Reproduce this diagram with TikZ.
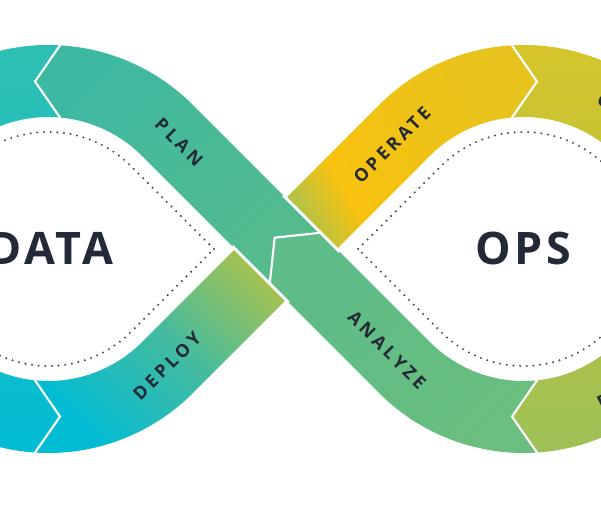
\documentclass[tikz,border=0pt]{standalone}
\usepackage{fontspec}
\setmainfont{Open Sans}
\newfontfamily\bandfont[LetterSpace=20]{Open Sans}
\newfontfamily\bigfont[LetterSpace=8]{Open Sans}
\definecolor{tealband}{HTML}{30BFB2}
\definecolor{cyanband}{HTML}{02BCD4}
\definecolor{planA}{HTML}{3DB9A2}
\definecolor{planB}{HTML}{55BB8D}
\definecolor{analyzeA}{HTML}{5DBC88}
\definecolor{analyzeB}{HTML}{6ABE7F}
\definecolor{deployB}{HTML}{45BB9E}
\definecolor{deployC}{HTML}{B4C343}
\definecolor{operateA}{HTML}{9CC25A}
\definecolor{operateB}{HTML}{F8C20F}
\definecolor{operateC}{HTML}{E6C31D}
\definecolor{rightA}{HTML}{D6C52A}
\definecolor{rightB}{HTML}{9DC157}
\definecolor{ink}{HTML}{232937}
\definecolor{dotgray}{HTML}{4A4F5A}
\pgfdeclarehorizontalshading{leftshade}{100bp}{color(0bp)=(tealband); color(25bp)=(tealband); color(75bp)=(cyanband); color(100bp)=(cyanband)}
\pgfdeclarehorizontalshading{rightshade}{100bp}{color(0bp)=(rightA); color(25bp)=(rightA); color(75bp)=(rightB); color(100bp)=(rightB)}
\pgfdeclarehorizontalshading{planshade}{100bp}{color(0bp)=(planA); color(25bp)=(planA); color(75bp)=(planB); color(100bp)=(planB)}
\pgfdeclarehorizontalshading{analyzeshade}{100bp}{color(0bp)=(analyzeA); color(25bp)=(analyzeA); color(75bp)=(analyzeB); color(100bp)=(analyzeB)}
\pgfdeclarehorizontalshading{deployshade}{100bp}{color(0bp)=(cyanband); color(25bp)=(cyanband); color(50bp)=(deployB); color(75bp)=(deployC); color(100bp)=(deployC)}
\pgfdeclarehorizontalshading{operateshade}{100bp}{color(0bp)=(operateA); color(25bp)=(operateA); color(38bp)=(operateB); color(75bp)=(operateC); color(100bp)=(operateC)}
\tikzset{
  cutline/.style={draw=white, line width=1.6pt, line cap=round, line join=miter},
  gapline/.style={draw=white, line width=2.2pt},
  dotline/.style={draw=dotgray, line width=1.7pt, line cap=round, dash pattern=on 0pt off 5pt},
  bigword/.style={text=ink, inner sep=0pt, font=\bigfont\fontsize{33.6}{36}\selectfont\bfseries},
  bandword/.style={text=ink, inner sep=0pt, font=\bandfont\fontsize{13.4}{15}\selectfont\bfseries}
}
\begin{document}
\begin{tikzpicture}[x=0.75pt,y=0.75pt,yscale=-1,xscale=1]
	\useasboundingbox (0,0) rectangle (601,520);
	\clip (0,0) rectangle (601,520);
	\shade [shading=leftshade, shading angle=-90] (60,45.33) arc[start angle=-86.74, end angle=-266.23, radius=204] -- (60,416.6) -- (35,380.32) arc[start angle=-264.17, end angle=-84.96, radius=132] -- (35,81.54) -- cycle;
	\shade [shading=rightshade, shading angle=-90] (512,45.33) arc[start angle=266.74, end angle=446.23, radius=204] -- (512,416.6) -- (537,380.32) arc[start angle=444.17, end angle=265.04, radius=132] -- (537,81.54) -- cycle;
	\shade [shading=deployshade, shading angle=45] (35,452.56) arc[start angle=-266.23, end angle=-315, radius=204] -- (311.46,274.46) -- (260.54,223.54) -- (141.75,342.34) arc[start angle=-315, end angle=-264.17, radius=132] -- (60,416.6) -- cycle;
	\shade [shading=operateshade, shading angle=30] (260.54,223.54) -- (379.34,104.75) arc[start angle=225, end angle=266.74, radius=204] -- (537,81.54) -- (512,117.51) arc[start angle=265.04, end angle=225, radius=132] -- (311.46,274.46) -- cycle;
	\shade [shading=planshade, shading angle=-45] (60,45.33) arc[start angle=-86.74, end angle=-45, radius=204] -- (320.65,232.73) -- (274.69,237.69) -- (269.73,283.65) -- (141.75,155.66) arc[start angle=-45, end angle=-84.96, radius=132] -- (35,81.54) -- cycle;
	\shade [shading=analyzeshade, shading angle=-45] (320.65,232.73) -- (430.25,342.34) arc[start angle=135, end angle=84.17, radius=132] -- (512,416.6) -- (537,452.56) arc[start angle=86.23, end angle=135, radius=204] -- (269.73,283.65) -- (274.69,237.69) -- cycle;
	\draw [gapline] (232.26,246.18) -- (288.82,302.74);
	\draw [gapline] (283.18,195.26) -- (339.74,251.82);
	\draw [cutline] (60,45.33) -- (35,81.54) -- (60,117.51);
	\draw [cutline] (35,380.32) -- (60,416.6) -- (35,452.56);
	\draw [cutline] (512,45.33) -- (537,81.54) -- (512,117.51);
	\draw [cutline] (537,380.32) -- (512,416.6) -- (537,452.56);
	\draw [cutline] (320.65,232.73) -- (274.69,237.69) -- (269.73,283.65);
	\draw [dotline] (213.87,249) -- (131.14,166.27) arc[start angle=-45, end angle=-315, radius=117] -- cycle;
	\draw [dotline] (358.13,249) -- (440.86,166.27) arc[start angle=225, end angle=495, radius=117] -- cycle;
	\node [bigword] (data) at (51,248) {DATA};
	\node [bigword] (ops) at (523,248) {OPS};
	\node [bandword, rotate=-45] (plan) at (179,142) {PLAN};
	\node [bandword, rotate=45] (operate) at (392,145) {OPERATE};
	\node [bandword, rotate=45] (deploy) at (167,366) {DEPLOY};
	\node [bandword, rotate=-45] (analyze) at (387,350) {ANALYZE};
	\node [bandword, rotate=-28] (topcut) at (604,101) {C};
	\node [bandword, rotate=27] (bottomcut) at (604,401) {D};
\end{tikzpicture}
\end{document}
